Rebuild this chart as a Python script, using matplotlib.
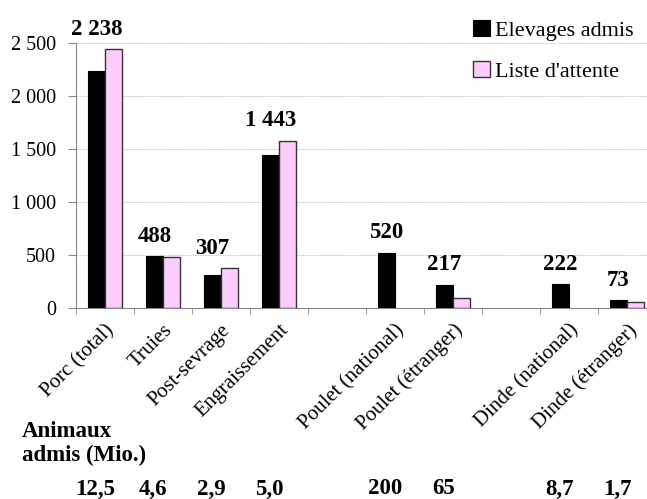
import numpy as np
import matplotlib.pyplot as plt
import matplotlib.transforms as mtransforms

plt.rcParams["font.family"] = ["Liberation Serif", "DejaVu Serif"]

# data (empty slots are gaps between animal groups)
categories = ["Porc (total)", "Truies", "Post-sevrage", "Engraissement", "",
              "Poulet (national)", "Poulet (étranger)", "",
              "Dinde (national)", "Dinde (étranger)"]
admis = [2238, 488, 307, 1443, np.nan, 520, 217, np.nan, 222, 73]
attente = [2440, 484, 374, 1575, np.nan, 0, 97, np.nan, 0, 60]
animaux = ["12,5", "4,6", "2,9", "5,0", "", "200", "65", "", "8,7", "1,7"]
yticks = [0, 500, 1000, 1500, 2000, 2500]


def fmt(v):
    return f"{int(v):,}".replace(",", " ")


fig = plt.figure(figsize=(6.47, 4.99), dpi=100)
ax = fig.add_axes([0.1175, 0.3828, 0.8964, 0.531])

x = np.arange(len(categories))
w = 0.293
ax.bar(x - w / 2, admis, w, color="black", edgecolor="black", linewidth=0.8,
       label="Elevages admis", zorder=3)
# no outline for empty waiting-list bars
lw_att = [1.0 if v > 0 else 0 for v in np.nan_to_num(attente)]
ax.bar(x + w / 2, attente, w, color="#ffccff", edgecolor="#333333", linewidth=lw_att,
       label="Liste d'attente", zorder=3)

# value labels above the black bars
for xi, a, p in zip(x, admis, attente):
    if np.isnan(a):
        continue
    ax.annotate(fmt(a), (xi - w / 2, max(a, p)), xytext=(0, 14.5),
                textcoords="offset points", ha="center", va="center",
                fontsize=16.5, fontweight="bold", annotation_clip=False)

ax.set_xlim(-0.5, len(categories) - 0.5)
ax.set_ylim(0, 2500)
ax.set_yticks(yticks)
ax.set_yticklabels([fmt(v) for v in yticks], fontsize=14.5)
ax.yaxis.grid(True, linestyle=(0, (1, 1)), color="#b0b0b0", linewidth=0.6, zorder=0)

ax.set_xticks(x)
ax.set_xticklabels(categories, rotation=45, ha="right", rotation_mode="anchor",
                   fontsize=15)
ax.set_xticks(np.arange(len(categories) + 1) - 0.5, minor=True)
ax.tick_params(axis="x", which="major", length=0, pad=9)
ax.tick_params(axis="x", which="minor", length=4, color="#868686")
ax.tick_params(axis="y", length=5.5, color="#868686", pad=9)

for s in ["top", "right"]:
    ax.spines[s].set_visible(False)
for s in ["left", "bottom"]:
    ax.spines[s].set_color("#868686")

fig.legend(loc="upper left", bbox_to_anchor=(473 / 647, 1 - 20 / 499),
           frameon=False, fontsize=16, handlelength=0.75, handleheight=0.75,
           handletextpad=0.25, labelspacing=0.9, borderaxespad=0, borderpad=0)

fig.text(22 / 647, 1 - 421 / 499, "Animaux\nadmis (Mio.)", fontsize=16.5,
         fontweight="bold", va="top", ha="left", linespacing=1.15)
trans = mtransforms.blended_transform_factory(ax.transData, fig.transFigure)
for xi, t in zip(x, animaux):
    ax.text(xi - 0.17, 1 - 489 / 499, t, transform=trans, ha="center",
            va="center", fontsize=16.5, fontweight="bold")

fig.savefig("out.png", dpi=100)
